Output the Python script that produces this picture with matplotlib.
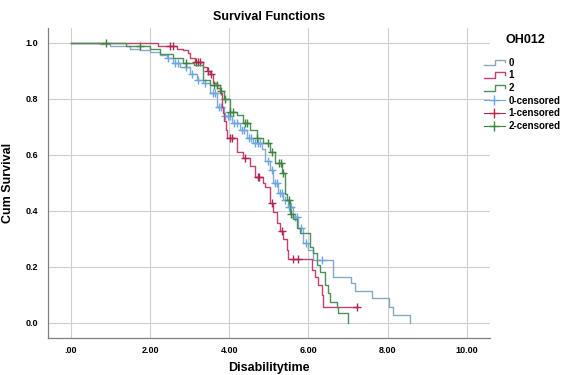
import numpy as np
import matplotlib
matplotlib.use("Agg")
import matplotlib.pyplot as plt
from matplotlib.lines import Line2D
from matplotlib.legend_handler import HandlerBase

plt.rcParams['font.family'] = ['Liberation Sans', 'DejaVu Sans']

# Kaplan-Meier steps per group: event times and survival after each drop
t0 = [0, 0.73, 1.0, 1.5, 1.75, 2.0, 2.25, 2.42, 2.58, 2.75, 3.0, 3.18, 3.33, 3.51, 3.69,
      3.86, 4.07, 4.27, 4.44, 4.6, 4.82, 4.9, 5.03, 5.1, 5.23, 5.35, 5.48, 5.6, 5.73,
      5.86, 5.98, 6.11, 6.62, 7.07, 7.17, 7.6, 8.03, 8.13, 8.56]
s0 = [1.0, 0.995, 0.99, 0.98, 0.975, 0.968, 0.957, 0.946, 0.93, 0.914, 0.89, 0.868, 0.857,
      0.82, 0.77, 0.74, 0.714, 0.69, 0.66, 0.643, 0.62, 0.58, 0.546, 0.50, 0.464, 0.44,
      0.414, 0.38, 0.34, 0.286, 0.26, 0.225, 0.165, 0.143, 0.115, 0.088, 0.057, 0.029, 0.0]
c0 = [2.45, 2.62, 2.7, 2.9, 3.05, 3.22, 3.4, 3.58, 3.64, 3.75, 3.8, 3.9, 3.96, 4.02, 4.12,
      4.2, 4.32, 4.38, 4.5, 4.55, 4.66, 4.72, 4.78, 4.97, 5.07, 5.15, 5.2, 5.28, 5.32,
      5.42, 5.52, 5.56, 5.66, 5.7, 5.8, 5.95, 6.35]

t1 = [0, 2.2, 2.68, 2.83, 2.95, 3.0, 3.13, 3.33, 3.43, 3.51, 3.59, 3.69, 3.76, 3.81, 3.84,
      3.88, 3.92, 3.94, 4.19, 4.34, 4.52, 4.65, 4.85, 4.9, 5.03, 5.1, 5.2, 5.28, 5.35,
      5.45, 5.48, 6.09, 6.16, 6.24, 6.34, 6.36]
s1 = [1.0, 0.99, 0.98, 0.975, 0.963, 0.946, 0.932, 0.914, 0.90, 0.89, 0.857, 0.84, 0.82,
      0.77, 0.75, 0.72, 0.69, 0.66, 0.61, 0.59, 0.56, 0.52, 0.50, 0.486, 0.43, 0.397,
      0.357, 0.33, 0.30, 0.26, 0.228, 0.19, 0.165, 0.136, 0.10, 0.057]
c1 = [2.5, 2.57, 3.15, 3.2, 3.26, 3.46, 3.55, 4.02, 4.07, 4.39, 4.72, 4.76, 5.08, 5.33,
      5.6, 5.73, 7.22]

t2 = [0, 1.4, 2.0, 2.25, 2.58, 2.83, 3.1, 3.33, 3.51, 3.76, 3.86, 4.02, 4.19, 4.34, 4.52,
      4.7, 4.85, 5.03, 5.15, 5.33, 5.4, 5.45, 5.53, 5.6, 5.7, 5.78, 6.04, 6.11, 6.21,
      6.29, 6.41, 6.49, 6.54, 6.72, 6.74, 7.0]
s2 = [1.0, 0.99, 0.98, 0.96, 0.946, 0.93, 0.92, 0.868, 0.85, 0.83, 0.80, 0.754, 0.743,
      0.714, 0.69, 0.66, 0.643, 0.61, 0.57, 0.535, 0.46, 0.44, 0.39, 0.37, 0.34, 0.32,
      0.27, 0.25, 0.207, 0.18, 0.136, 0.107, 0.075, 0.057, 0.036, 0.0]
c2 = [0.9, 1.75, 2.9, 3.62, 3.7, 3.78, 3.9, 4.02, 4.1, 4.4, 4.45, 4.7, 4.97, 5.08, 5.25,
      5.3, 5.36, 5.5, 5.55]

groups = ["0", "1", "2"]
line_cols = ["#86a9c8", "#c5416a", "#4f8f5a"]
cens_cols = ["#6aa8e6", "#b02850", "#3d8440"]
xticks = [0, 2, 4, 6, 8, 10]
xticklabels = [".00", "2.00", "4.00", "6.00", "8.00", "10.00"]
yticks = [0.0, 0.2, 0.4, 0.6, 0.8, 1.0]


def surv_at(t, s, x):
    i = np.searchsorted(t, x, side="right") - 1
    return np.array(s)[i]


class StepHandler(HandlerBase):
    def create_artists(self, legend, orig, xd, yd, w, h, fs, trans):
        xs = [xd, xd + 0.55 * w, xd + 0.55 * w, xd + w, xd + w]
        ys = [yd + 0.05 * h, yd + 0.05 * h, yd + 0.85 * h, yd + 0.85 * h, yd + 0.45 * h]
        ln = Line2D(xs, ys, color=orig.get_color(), lw=1.0, transform=trans)
        return [ln]


fig = plt.figure(figsize=(5.63, 3.75), dpi=100)
ax = fig.add_axes([0.085, 0.0987, 0.785, 0.827])

data = [(t0, s0, c0), (t1, s1, c1), (t2, s2, c2)]
step_handles = []
cens_handles = []
for g, (t, s, c), lc, cc in zip(groups, data, line_cols, cens_cols):
    tt = list(t)
    ss = list(s)
    if c[-1] > tt[-1]:
        tt.append(c[-1])
        ss.append(ss[-1])
    h, = ax.step(tt, ss, where="post", color=lc, lw=1.0)
    step_handles.append(h)
    cy = surv_at(t, s, c)
    ax.plot(c, cy, "+", color=cc, ms=6, mew=1.0, ls="none")
    cens_handles.append(Line2D([], [], color=cc, marker="+", ms=7, mew=1.0, lw=0.8))

ax.set_xlim(-0.58, 10.58)
ax.set_ylim(-0.054, 1.054)
ax.set_xticks(xticks)
ax.set_xticklabels(xticklabels)
ax.set_yticks(yticks)
ax.set_yticklabels(["%.1f" % v for v in yticks])
ax.tick_params(length=0, labelsize=6.5, pad=6)
ax.tick_params(axis="y", pad=7)
for lab in ax.get_xticklabels() + ax.get_yticklabels():
    lab.set_fontweight("bold")
ax.grid(True, color="#cfcfcf", lw=0.8)
ax.set_axisbelow(True)
for sp in ["top", "right"]:
    ax.spines[sp].set_visible(False)
for sp in ["left", "bottom"]:
    ax.spines[sp].set_color("#808080")
    ax.spines[sp].set_linewidth(0.9)

ax.set_title("Survival Functions", fontsize=9, fontweight="bold", pad=6)
ax.set_xlabel("Disabilitytime", fontsize=9, fontweight="bold", labelpad=5)
ax.set_ylabel("Cum Survival", fontsize=9, fontweight="bold", labelpad=8)

handles = step_handles + cens_handles
labels = groups + [g + "-censored" for g in groups]
hmap = {h: StepHandler() for h in step_handles}
leg = fig.legend(handles, labels, handler_map=hmap, loc="upper left",
                 bbox_to_anchor=(0.852, 0.857), frameon=False, fontsize=7,
                 handlelength=2.2, handletextpad=0.4,
                 labelspacing=0.28, borderaxespad=0)
for txt in leg.get_texts():
    txt.set_fontweight("bold")
fig.text(0.933, 0.893, "OH012", fontsize=9, fontweight="bold", ha="center", va="center")

fig.savefig("out.png", dpi=100)
